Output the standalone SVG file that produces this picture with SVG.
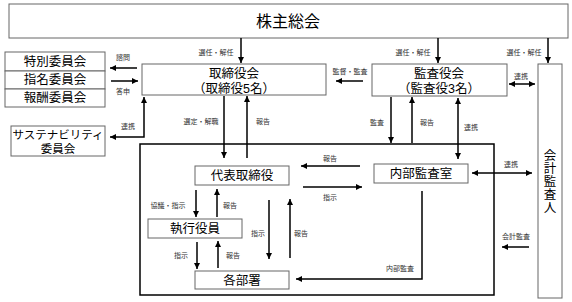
<svg xmlns="http://www.w3.org/2000/svg" width="572" height="302" viewBox="0 0 572 302">
<defs>
<marker id="ah" viewBox="0 0 6 6" refX="6" refY="3" markerWidth="6" markerHeight="6" markerUnits="userSpaceOnUse" orient="auto-start-reverse"><path d="M0,0 L6,3 L0,6 Z" fill="#000"/></marker>
<style>
.box{fill:#fff;stroke:#666;stroke-width:1}
.frame{fill:none;stroke:#000;stroke-width:1.5}
.t{font-family:"Liberation Sans","Noto Sans CJK JP",sans-serif;fill:#000;text-anchor:middle}
.m{font-size:12.5px}
.l{font-size:7px;fill:#333}
.c{fill:none;stroke:#000;stroke-width:1.5}
.a{marker-end:url(#ah)}
.b{marker-start:url(#ah);marker-end:url(#ah)}
</style>
</defs>
<rect width="572" height="302" fill="#fff"/>
<rect class="frame" x="140" y="144" width="354" height="151"/>
<g id="shareholders"><rect class="box" x="9" y="4" width="559" height="34"/><text class="t" x="288" y="27" font-size="16">株主総会</text></g>
<g id="board"><rect class="box" x="142" y="64" width="184" height="31"/><text class="t m" x="234" y="78">取締役会</text><text class="t m" x="234" y="93">（取締役5名）</text></g>
<g id="special"><rect class="box" x="5" y="52" width="100" height="19"/><text class="t m" x="55" y="66">特別委員会</text></g>
<g id="nomination"><rect class="box" x="5" y="71" width="100" height="18"/><text class="t m" x="55" y="84">指名委員会</text></g>
<g id="compensation"><rect class="box" x="5" y="89" width="100" height="18"/><text class="t m" x="55" y="102">報酬委員会</text></g>
<g id="sustainability"><rect class="box" x="11" y="126" width="94" height="30"/><text class="t" x="58" y="139" font-size="11.5">サステナビリティ</text><text class="t" x="58" y="153" font-size="11.5">委員会</text></g>
<g id="auditors"><rect class="box" x="372" y="64" width="135" height="32"/><text class="t m" x="439" y="78">監査役会</text><text class="t m" x="439" y="93">（監査役3名）</text></g>
<g id="accounting"><rect class="box" x="538" y="64" width="24" height="234"/><text class="t m" x="550" y="160">会</text><text class="t m" x="550" y="173">計</text><text class="t m" x="550" y="186">監</text><text class="t m" x="550" y="199">査</text><text class="t m" x="550" y="212">人</text></g>
<g id="president"><rect class="box" x="195" y="166" width="94" height="19"/><text class="t m" x="242" y="180">代表取締役</text></g>
<g id="internal"><rect class="box" x="374" y="164" width="94" height="19"/><text class="t m" x="421" y="178">内部監査室</text></g>
<g id="officers"><rect class="box" x="148" y="219" width="94" height="19"/><text class="t m" x="195" y="233">執行役員</text></g>
<g id="departments"><rect class="box" x="195" y="271" width="94" height="18"/><text class="t m" x="242" y="285">各部署</text></g>
<g id="connectors">
<line class="c a" x1="241" y1="38" x2="241" y2="63"/>
<line class="c a" x1="438" y1="38" x2="438" y2="63"/>
<line class="c a" x1="548" y1="38" x2="548" y2="63"/>
<line class="c a" x1="137" y1="68" x2="110" y2="68"/>
<line class="c a" x1="111" y1="81" x2="138" y2="81"/>
<polyline class="c b" points="110,137 144,137 144,97"/>
<line class="c a" x1="363" y1="81" x2="336" y2="81"/>
<line class="c b" x1="509" y1="84" x2="535" y2="84"/>
<line class="c a" x1="224" y1="96" x2="224" y2="158"/>
<line class="c a" x1="247" y1="158" x2="247" y2="96"/>
<line class="c a" x1="391" y1="97" x2="391" y2="143"/>
<line class="c a" x1="412" y1="143" x2="412" y2="97"/>
<line class="c b" x1="458" y1="98" x2="458" y2="159"/>
<line class="c a" x1="360" y1="166" x2="301" y2="166"/>
<line class="c a" x1="303" y1="187" x2="362" y2="187"/>
<line class="c b" x1="472" y1="173" x2="532" y2="173"/>
<line class="c a" x1="196" y1="190" x2="196" y2="217"/>
<line class="c a" x1="217" y1="217" x2="217" y2="189"/>
<line class="c a" x1="197" y1="242" x2="197" y2="269"/>
<line class="c a" x1="218" y1="268" x2="218" y2="241"/>
<line class="c a" x1="269" y1="200" x2="269" y2="259"/>
<line class="c a" x1="290" y1="258" x2="290" y2="199"/>
<polyline class="c a" points="422,191 422,279 296,279"/>
<line class="c a" x1="529" y1="247" x2="502" y2="247"/>
</g>
<g id="labels">
<text class="t l" x="216" y="55">選任・解任</text>
<text class="t l" x="413" y="55">選任・解任</text>
<text class="t l" x="524" y="55">選任・解任</text>
<text class="t l" x="123" y="60">諮問</text>
<text class="t l" x="123" y="94">答申</text>
<text class="t l" x="128" y="129">連携</text>
<text class="t l" x="350" y="74">監督・監査</text>
<text class="t l" x="521" y="79">連携</text>
<text class="t l" x="201" y="124">選定・解職</text>
<text class="t l" x="263" y="124">報告</text>
<text class="t l" x="377" y="125">監査</text>
<text class="t l" x="427" y="125">報告</text>
<text class="t l" x="471" y="130">連携</text>
<text class="t l" x="330" y="161">報告</text>
<text class="t l" x="330" y="200">指示</text>
<text class="t l" x="511" y="167">連携</text>
<text class="t l" x="168" y="208">協議・指示</text>
<text class="t l" x="230" y="208">報告</text>
<text class="t l" x="258" y="236">指示</text>
<text class="t l" x="301" y="236">報告</text>
<text class="t l" x="181" y="258">指示</text>
<text class="t l" x="233" y="258">報告</text>
<text class="t l" x="400" y="271">内部監査</text>
<text class="t l" x="516" y="239">会計監査</text>
</g>
</svg>
